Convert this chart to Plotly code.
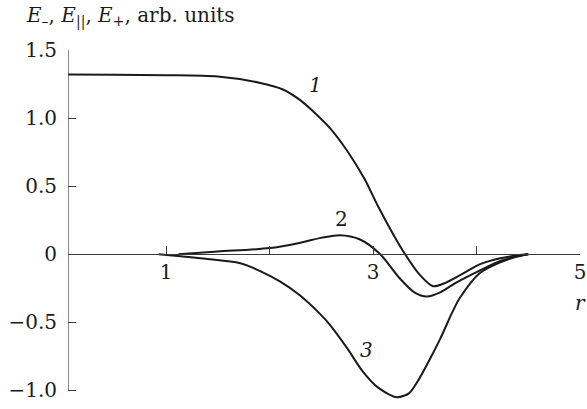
import plotly.graph_objects as go

# Field components versus radius r (arb. units)
r1 = [0.05, 0.5, 1.0, 1.5, 1.9, 2.13, 2.3, 2.42, 2.58, 2.75, 2.92, 3.05, 3.2, 3.31, 3.45, 3.58, 3.7, 3.85, 4.03, 4.23, 4.4, 4.5]
e1 = [1.32, 1.318, 1.315, 1.305, 1.26, 1.21, 1.13, 1.05, 0.93, 0.76, 0.55, 0.35, 0.14, 0.0, -0.15, -0.235, -0.21, -0.15, -0.075, -0.03, -0.008, 0.0]

r2 = [1.12, 1.5, 2.0, 2.3, 2.5, 2.68, 2.87, 3.07, 3.25, 3.4, 3.52, 3.65, 3.8, 4.03, 4.23, 4.4, 4.5]
e2 = [0.0, 0.02, 0.045, 0.085, 0.12, 0.14, 0.11, 0.0, -0.17, -0.28, -0.31, -0.28, -0.21, -0.12, -0.05, -0.015, 0.0]

r3 = [0.93, 1.14, 1.4, 1.71, 1.9, 2.1, 2.29, 2.49, 2.58, 2.75, 2.9, 3.05, 3.23, 3.35, 3.45, 3.55, 3.65, 3.77, 3.84, 4.03, 4.23, 4.4, 4.5]
e3 = [0.0, -0.015, -0.035, -0.065, -0.12, -0.2, -0.3, -0.44, -0.515, -0.69, -0.86, -0.98, -1.05, -1.02, -0.91, -0.77, -0.62, -0.42, -0.32, -0.14, -0.06, -0.015, 0.0]

y_ticks = [1.5, 1.0, 0.5, 0.0, -0.5, -1.0]
y_labels = ["1.5", "1.0", "0.5", "0", "\u22120.5", "\u22121.0"]
x_ticks = [1, 2, 3, 4, 5]
x_labels = ["1", "", "3", "", "5"]

FONT = "DejaVu Serif"
FS = 20
INK = "#1a1a1a"
AXIS = "#3a3a3a"
X_MIN, X_MAX = 0.053, 5.0
Y_MIN, Y_MAX = -1.1, 1.5

fig = go.Figure()
for rs, es in [(r1, e1), (r2, e2), (r3, e3)]:
    fig.add_trace(go.Scatter(x=rs, y=es, mode="lines",
                             line=dict(color=INK, width=2, shape="spline", smoothing=0.8),
                             showlegend=False, hoverinfo="skip"))

# vertical axis line stops at the last tick (-1.0)
fig.add_shape(type="line", xref="x", yref="y", x0=X_MIN, x1=X_MIN, y0=-1.0, y1=1.5,
              line=dict(color=AXIS, width=1.2))

# curve labels
for txt, x, y in [("<i>1</i>", 2.44, 1.24), ("2", 2.70, 0.26), ("<i>3</i>", 2.94, -0.70)]:
    fig.add_annotation(x=x, y=y, text=txt, showarrow=False,
                       font=dict(family=FONT, size=FS, color=INK))

fig.add_annotation(x=5.0, y=-0.36, text="<i>r</i>", showarrow=False,
                   font=dict(family=FONT, size=FS, color=INK))

fig.add_annotation(xref="paper", yref="paper", x=-0.085, y=1.138, xanchor="left", yanchor="top",
                   text="<i>E</i><sub>\u2013</sub>, <i>E</i><sub>||</sub>, <i>E</i><sub>+</sub>, arb. units",
                   showarrow=False, font=dict(family=FONT, size=FS, color=INK))

fig.update_layout(
    width=587, height=409,
    margin=dict(l=68, r=7, t=50, b=5),
    paper_bgcolor="white", plot_bgcolor="white",
    font=dict(family=FONT, size=FS, color=INK),
    xaxis=dict(range=[X_MIN, X_MAX], showgrid=False, zeroline=False,
               showline=True, linecolor=AXIS, linewidth=1.2,
               ticks="inside", ticklen=8, tickcolor=AXIS, tickwidth=1.2,
               tickvals=x_ticks, ticktext=x_labels,
               tickfont=dict(family=FONT, size=FS, color=INK),
               anchor="free", position=(0 - Y_MIN) / (Y_MAX - Y_MIN), automargin=False),
    yaxis=dict(range=[Y_MIN, Y_MAX], showgrid=False, zeroline=False,
               showline=False,
               ticks="inside", ticklen=8, tickcolor=AXIS, tickwidth=1.2,
               tickvals=y_ticks, ticktext=y_labels, ticklabelstandoff=10,
               tickfont=dict(family=FONT, size=FS, color=INK),
               automargin=False),
)

fig.write_html("out.html")
